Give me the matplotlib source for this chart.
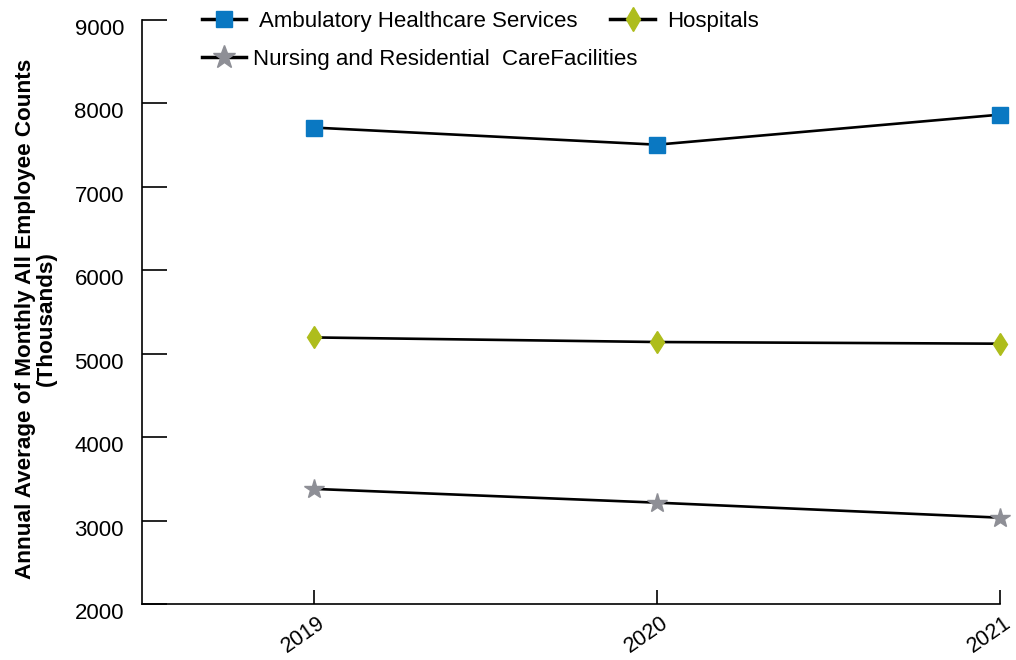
import matplotlib.pyplot as plt
from matplotlib.lines import Line2D
from matplotlib.transforms import ScaledTranslation

plt.rcParams['font.family'] = ['Liberation Sans', 'DejaVu Sans']

years = ['2019', '2020', '2021']
ambulatory = [7710, 7505, 7865]
hospitals = [5195, 5140, 5120]
nursing = [3380, 3215, 3035]

fig = plt.figure(figsize=(10.16, 6.6), dpi=100)
ax = fig.add_axes([0.1398, 0.0848, 0.8445, 0.885])

x = range(len(years))
ax.plot(x, ambulatory, color='black', lw=1.9, marker='s', ms=11,
        mfc='#0A78C2', mec='#0A78C2', clip_on=False, zorder=3)
ax.plot(x, hospitals, color='black', lw=1.9, marker='d', ms=11.5,
        mfc='#AEBD1C', mec='#AEBD1C', clip_on=False, zorder=3)
ax.plot(x, nursing, color='black', lw=1.9, marker='*', ms=15,
        mfc='#8E8F96', mec='#8E8F96', clip_on=False, zorder=3)

ax.set_xlim(-0.5, 2)
ax.set_ylim(2000, 9000)
ax.set_yticks(range(2000, 9001, 1000))
ax.set_xticks(list(x))
ax.set_xticklabels(years, rotation=35, ha='right', va='top', rotation_mode='anchor')
ax.tick_params(axis='y', direction='in', length=18, width=1.2, labelsize=16, pad=13)
ax.tick_params(axis='x', direction='in', length=10, width=1.2, labelsize=15.5, pad=6)
for lab in ax.get_yticklabels():
    lab.set_transform(lab.get_transform() + ScaledTranslation(0, -7 / 100, fig.dpi_scale_trans))
for lab in ax.get_xticklabels():
    lab.set_transform(lab.get_transform() + ScaledTranslation(3 / 100, 0, fig.dpi_scale_trans))

for s in ['top', 'right']:
    ax.spines[s].set_visible(False)
for s in ['left', 'bottom']:
    ax.spines[s].set_linewidth(1.2)

ax.set_ylabel('Annual Average of Monthly All Employee Counts\n(Thousands)',
              fontsize=16.2, fontweight='bold', linespacing=1.0)
ax.yaxis.set_label_coords(-0.099, 0.488)

h_amb = Line2D([], [], color='black', lw=2.5, marker='s', ms=12, mfc='#0A78C2', mec='#0A78C2')
h_hos = Line2D([], [], color='black', lw=2.5, marker='d', ms=12, mfc='#AEBD1C', mec='#AEBD1C')
h_nur = Line2D([], [], color='black', lw=2.5, marker='*', ms=17, mfc='#8E8F96', mec='#8E8F96')

fig.legend([h_amb, h_hos], ['Ambulatory Healthcare Services', 'Hospitals'],
           ncol=2, loc='center left', bbox_to_anchor=(0.19, 0.968),
           frameon=False, fontsize=16, handlelength=2.0,
           handletextpad=0.55, columnspacing=1.5, borderaxespad=0)
fig.legend([h_nur], ['Nursing and Residential  CareFacilities'],
           loc='center left', bbox_to_anchor=(0.19, 0.91),
           frameon=False, fontsize=16, handlelength=2.0,
           handletextpad=0.3, borderaxespad=0)

fig.savefig('out.png', dpi=100)
